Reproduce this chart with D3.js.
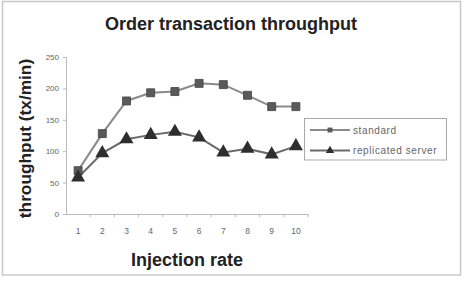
<!DOCTYPE html>
<html><head><meta charset="utf-8">
<script src="https://cdn.jsdelivr.net/npm/d3@7"></script>
<style>body{margin:0;background:#fff}svg{display:block}</style>
</head><body>
<script>
const categories = ["1","2","3","4","5","6","7","8","9","10"];
const standard = [69,128,180,193,195,208,206,189,171,171];
const replicated = [58,97,119,126,131,122,98,104,95,108];
const yTicks = [0,50,100,150,200,250];
const seriesNames = ["standard","replicated server"];
const title = "Order transaction throughput";
const xTitle = "Injection rate";
const yTitle = "throughput (tx/min)";

(function(){
const W=466,H=281;
const svg=d3.select("body").append("svg").attr("width",W).attr("height",H);
svg.append("rect").attr("x",2.5).attr("y",1.5).attr("width",458).attr("height",273.5)
  .attr("fill","#fff").attr("stroke","#c8c8c8").attr("stroke-width",1.5);

const pL=66,pR=308,pT=57,pB=214;
const x=d3.scaleBand().domain(categories).range([pL,pR]);
const y=d3.scaleLinear().domain([0,250]).range([pB,pT]);

const ya=svg.append("g").attr("transform",`translate(${pL},0)`)
  .call(d3.axisLeft(y).tickValues(yTicks).tickSize(3).tickPadding(4));
ya.select(".domain").attr("stroke","#bbb");
ya.selectAll(".tick line").attr("stroke","#bbb");
ya.selectAll("text").attr("font-family","Arial, Liberation Sans").attr("font-size",8).attr("fill","#666");

const xa=svg.append("g").attr("transform",`translate(0,${pB})`)
  .call(d3.axisBottom(x).tickSize(0).tickPadding(14));
xa.select(".domain").attr("stroke","#bbb");
xa.selectAll("text").attr("font-family","Arial, Liberation Sans").attr("font-size",8.5).attr("fill","#666");
xa.selectAll(".sep").data(categories).enter().append("line")
  .attr("x1",d=>x(d)+x.bandwidth()).attr("x2",d=>x(d)+x.bandwidth())
  .attr("y1",0).attr("y2",3).attr("stroke","#bbb");

const cx=d=>x(d)+x.bandwidth()/2;
const line=d3.line().x((d,i)=>cx(categories[i])).y(d=>y(d));

svg.append("path").datum(standard).attr("d",line).attr("fill","none").attr("stroke","#8a8a8a").attr("stroke-width",2);
svg.append("path").datum(replicated).attr("d",line).attr("fill","none").attr("stroke","#6a6a6a").attr("stroke-width",2);

const sq=d3.symbol().type(d3.symbolSquare).size(64);
const tri=d3.symbol().type(d3.symbolTriangle).size(85);
svg.selectAll(".sq").data(standard).enter().append("path")
  .attr("d",sq).attr("transform",(d,i)=>`translate(${cx(categories[i])},${y(d)})`)
  .attr("fill","#5a5a5a").attr("stroke","#444").attr("stroke-width",0.8);
svg.selectAll(".tr").data(replicated).enter().append("path")
  .attr("d",tri).attr("transform",(d,i)=>`translate(${cx(categories[i])},${y(d)})`)
  .attr("fill","#2e2e2e");

svg.append("text").attr("x",231).attr("y",30).attr("text-anchor","middle")
  .attr("font-family","Arial, Liberation Sans").attr("font-weight","bold").attr("font-size",18).attr("fill","#222").text(title);
svg.append("text").attr("x",187).attr("y",266).attr("text-anchor","middle")
  .attr("font-family","Arial, Liberation Sans").attr("font-weight","bold").attr("font-size",18).attr("fill","#222").text(xTitle);
svg.append("text").attr("transform","translate(31,138.5) rotate(-90)").attr("text-anchor","middle")
  .attr("font-family","Arial, Liberation Sans").attr("font-weight","bold").attr("font-size",17.3).attr("fill","#222").text(yTitle);

const lg=svg.append("g");
lg.append("rect").attr("x",304.5).attr("y",118.5).attr("width",142).attr("height",41.5)
  .attr("fill","#fff").attr("stroke","#aaa");
const rows=[{n:seriesNames[0],c:"#8a8a8a",f:"#5a5a5a",sym:d3.symbolSquare,sz:24},
            {n:seriesNames[1],c:"#6a6a6a",f:"#2e2e2e",sym:d3.symbolTriangle,sz:30}];
rows.forEach((r,i)=>{
  const yy=130+i*20.5;
  lg.append("line").attr("x1",310).attr("x2",350).attr("y1",yy).attr("y2",yy).attr("stroke",r.c).attr("stroke-width",2);
  lg.append("path").attr("d",d3.symbol().type(r.sym).size(r.sz)).attr("transform",`translate(330,${yy})`).attr("fill",r.f);
  lg.append("text").attr("x",353).attr("y",yy+3.5).attr("font-family","Arial, Liberation Sans")
    .attr("font-size",10).attr("letter-spacing",0.6).attr("fill","#666").text(r.n);
});
})();
</script>
</body></html>
